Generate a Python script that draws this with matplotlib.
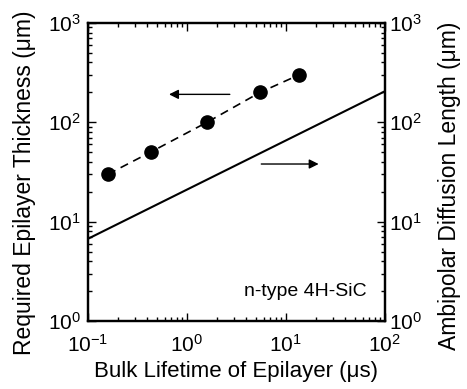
import matplotlib.pyplot as plt

plt.rcParams['font.family'] = ['Liberation Sans', 'DejaVu Sans']

# required epilayer thickness vs lifetime (left axis)
lifetime = [0.16, 0.43, 1.6, 5.5, 13.6]
thickness = [30, 50, 100, 200, 300]

# ambipolar diffusion length (right axis)
tau_line = [0.1, 100]
diff_length = [6.7, 205]

fig = plt.figure(figsize=(4.67, 3.89), dpi=100)
ax = fig.add_axes([0.188, 0.175, 0.636, 0.766])

ax.plot(lifetime, thickness, 'k--', lw=1.2, dashes=(5, 3.5),
        marker='o', ms=9.5, mfc='black')
ax.set_xscale('log')
ax.set_yscale('log')
ax.set_xlim(0.1, 100)
ax.set_ylim(1, 1000)

ax2 = ax.twinx()
ax2.plot(tau_line, diff_length, 'k-', lw=1.5)
ax2.set_yscale('log')
ax2.set_ylim(1, 1000)

for a in (ax, ax2):
    for s in a.spines.values():
        s.set_linewidth(1.6)
    a.tick_params(which='both', direction='in', labelsize=15, width=1.0)
    a.tick_params(which='major', length=6)
    a.tick_params(which='minor', length=3)
ax.tick_params(which='both', top=True, right=False)
ax.tick_params(axis='x', pad=9)
ax.tick_params(axis='y', pad=5)
ax2.tick_params(axis='y', pad=3)

ax.set_xlabel('Bulk Lifetime of Epilayer (μs)', fontsize=16)
ax.xaxis.set_label_coords(0.5, -0.135)
ax.set_ylabel('Required Epilayer Thickness (μm)', fontsize=16.5)
ax.yaxis.set_label_coords(-0.175, 0.465)
ax2.set_ylabel('Ambipolar Diffusion Length (μm)', fontsize=16.5)
ax2.yaxis.set_label_coords(1.18, 0.455)

ax.annotate('', xy=(0.62, 191), xytext=(2.9, 191),
            arrowprops=dict(arrowstyle='-|>', color='black', lw=1.0,
                            mutation_scale=14))
ax.annotate('', xy=(22.9, 38), xytext=(5.3, 38),
            arrowprops=dict(arrowstyle='-|>', color='black', lw=1.0,
                            mutation_scale=14))

ax.text(0.94, 0.10, 'n-type 4H-SiC', transform=ax.transAxes,
        ha='right', va='center', fontsize=14)

fig.savefig('out.png', dpi=100)
